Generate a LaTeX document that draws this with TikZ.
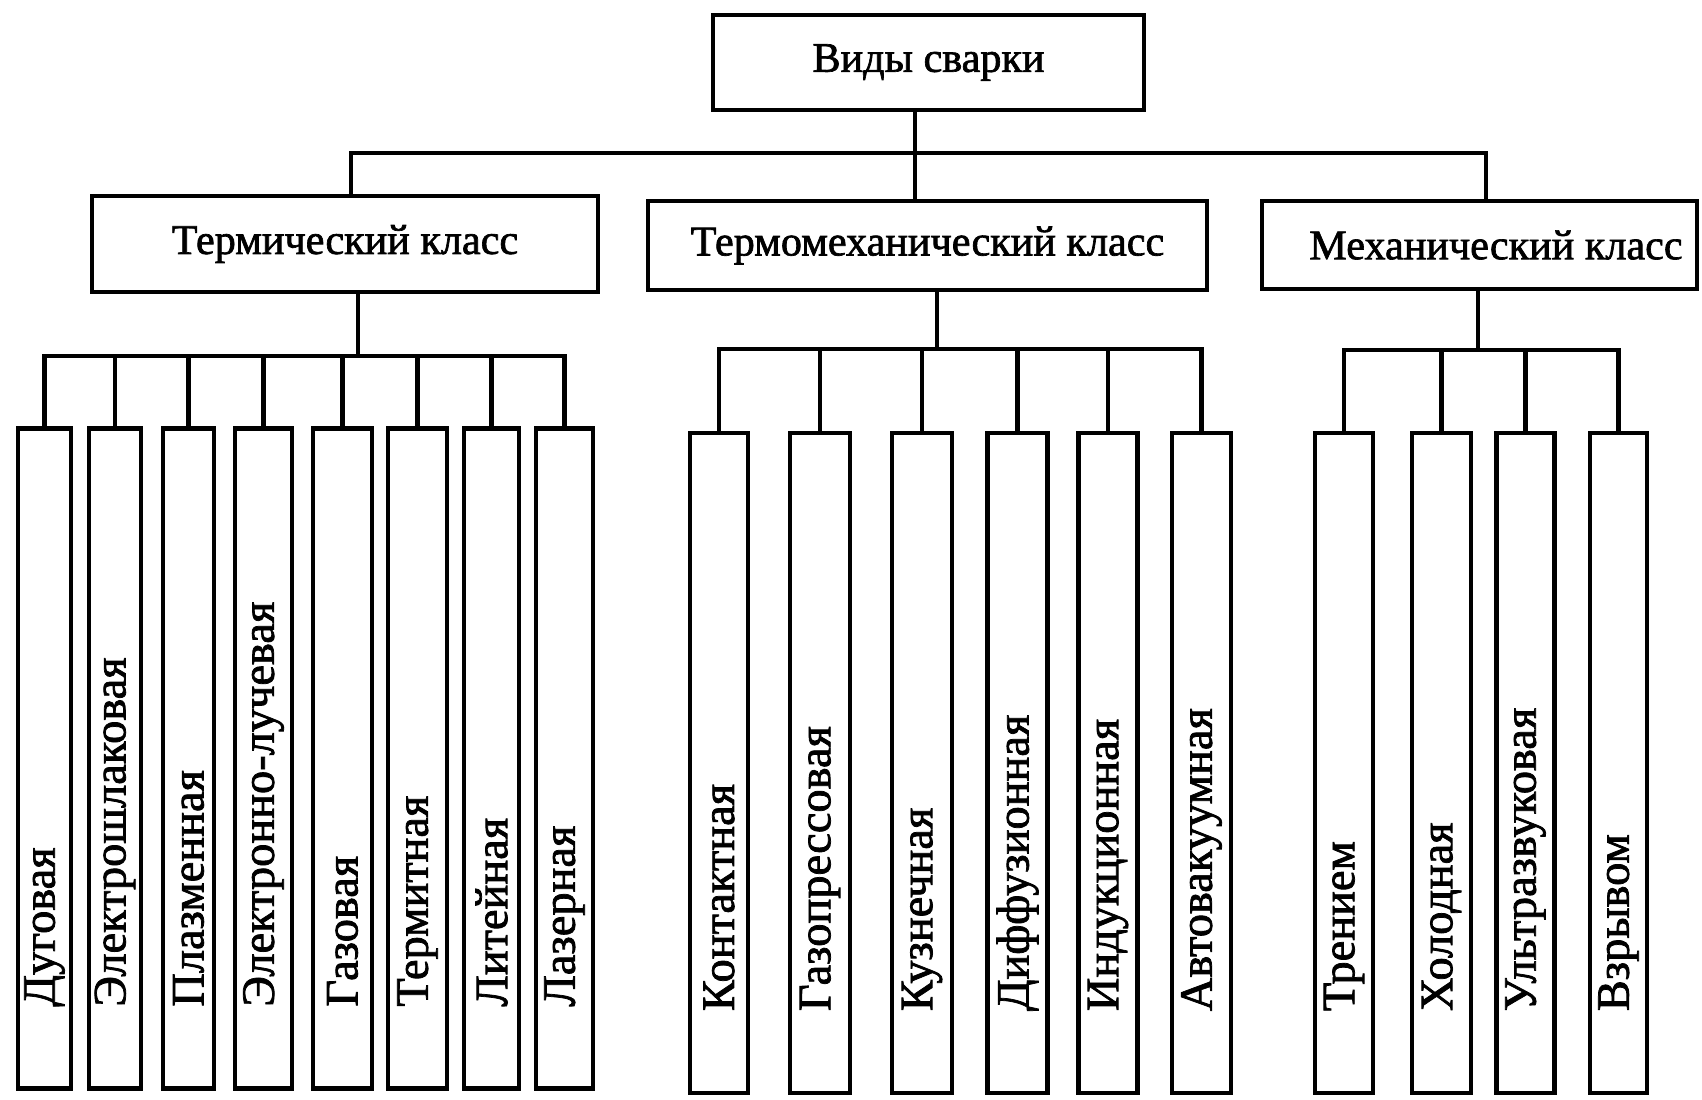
\documentclass[tikz,border=0pt]{standalone}
\usepackage{fontspec}
\setmainfont{Liberation Serif}[FakeBold=1.6]
\begin{document}
\begin{tikzpicture}[x=0.01cm,y=-0.01cm,
  conn/.style={line width=1.2pt},
  box/.style={draw, line width=1.3pt, inner sep=0pt, font=\fontsize{12}{14}\selectfont},
  leaf/.style={draw, line width=1.3pt, rotate=90, inner xsep=0.82cm, inner ysep=0pt,
    text width=4.96cm, align=left, minimum width=6.6cm, font=\fontsize{13.2}{15}\selectfont}]
\useasboundingbox[fill=white] (0,0) rectangle (1702,1100);
% root and classes
\node[box, minimum width=4.31cm, minimum height=0.95cm] (root) at (928.5,62.5) {Виды сварки};
\node[box, minimum width=5.06cm, minimum height=0.96cm] (c1) at (345,244) {Термический класс};
\node[box, minimum width=5.59cm, minimum height=0.89cm] (c2) at (927.5,245.5) {Термомеханический класс};
\node[box, minimum width=4.35cm, minimum height=0.88cm] (c3) at (1479.5,245) {\hspace*{0.33cm}Механический класс};
% leaves, thermal
\node[leaf, minimum height=0.53cm] (t1) at (44.5,758.5) {Дуговая};
\node[leaf, minimum height=0.52cm] (t2) at (115,758.5) {Электрошлаковая};
\node[leaf, minimum height=0.51cm] (t3) at (188.5,758.5) {Плазменная};
\node[leaf, minimum height=0.57cm] (t4) at (263.5,758.5) {Электронно-лучевая};
\node[leaf, minimum height=0.59cm] (t5) at (342.5,758.5) {Газовая};
\node[leaf, minimum height=0.59cm] (t6) at (417.5,758.5) {Термитная};
\node[leaf, minimum height=0.55cm] (t7) at (491.5,758.5) {Литейная};
\node[leaf, minimum height=0.57cm] (t8) at (564.5,758.5) {Лазерная};
% leaves, thermomechanical
\node[leaf, minimum height=0.58cm] (m1) at (719,763) {Контактная};
\node[leaf, minimum height=0.60cm] (m2) at (820,763) {Газопрессовая};
\node[leaf, minimum height=0.60cm] (m3) at (922,763) {Кузнечная};
\node[leaf, minimum height=0.60cm] (m4) at (1017.5,763) {Диффузионная};
\node[leaf, minimum height=0.59cm] (m5) at (1108,763) {Индукционная};
\node[leaf, minimum height=0.59cm] (m6) at (1201.5,763) {Автовакуумная};
% leaves, mechanical
\node[leaf, minimum height=0.58cm] (k1) at (1344,763) {Трением};
\node[leaf, minimum height=0.59cm] (k2) at (1441.5,763) {Холодная};
\node[leaf, minimum height=0.58cm] (k3) at (1525.5,763) {Ультразвуковая};
\node[leaf, minimum height=0.57cm] (k4) at (1618.5,763) {Взрывом};
% top level connectors
\coordinate (j0) at (915,153);
\coordinate (jl) at (351,153);
\coordinate (jr) at (1486,153);
\draw[conn] (root.south -| j0) -- (c2.north -| j0);
\draw[conn] (jl |- c1.north) -- (jl) -- (jr) -- (jr |- c3.north);
% thermal bus
\coordinate (b1) at (358,356);
\draw[conn] (c1.south -| b1) -- (b1);
\draw[conn] (t1.east) -- (t1.east |- b1) -- (t8.east |- b1) -- (t8.east);
\foreach \i in {2,...,7} \draw[conn] (t\i.east |- b1) -- (t\i.east);
% thermomechanical bus
\coordinate (b2) at (937,349);
\draw[conn] (c2.south -| b2) -- (b2);
\draw[conn] (m1.east) -- (m1.east |- b2) -- (m6.east |- b2) -- (m6.east);
\foreach \i in {2,...,5} \draw[conn] (m\i.east |- b2) -- (m\i.east);
% mechanical bus
\coordinate (b3) at (1478,350);
\draw[conn] (c3.south -| b3) -- (b3);
\draw[conn] (k1.east) -- (k1.east |- b3) -- (k4.east |- b3) -- (k4.east);
\foreach \i in {2,3} \draw[conn] (k\i.east |- b3) -- (k\i.east);
\end{tikzpicture}
\end{document}
